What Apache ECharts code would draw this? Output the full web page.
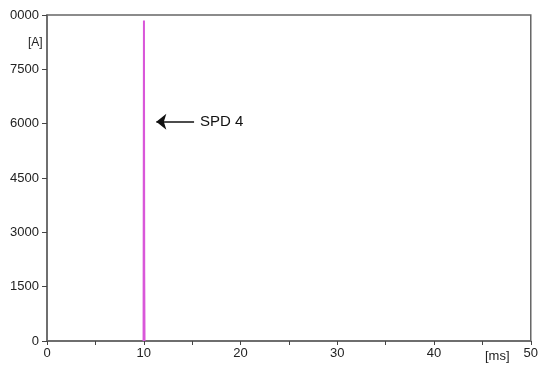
<!DOCTYPE html>
<html>
<head>
<meta charset="utf-8">
<script src="https://cdn.jsdelivr.net/npm/echarts@6/dist/echarts.min.js"></script>
<style>
  html, body { margin: 0; padding: 0; background: #fff; }
  #chart { width: 541px; height: 367px; }
</style>
</head>
<body>
<div id="chart"></div>
<script>
// time in ms, current in A
var spdTime = [9.98, 10.02, 10.05, 10.08];
var spdCurrent = [0, 8850, 1900, 0];
var yTicks = [0, 1500, 3000, 4500, 6000, 7500, 9000];
var yTickLabels = ['0', '1500', '3000', '4500', '6000', '7500', '0000'];
var xTickLabels = ['0', '10', '20', '30', '40', '50'];
var arrowFrom = [15.2, 6050];
var arrowTo = [11.3, 6050];

var chart = echarts.init(document.getElementById('chart'));
var font = 'Liberation Sans, Arial, sans-serif';

var option = {
    animation: false,
    grid: { left: 47, right: 7, top: 15, bottom: 26, show: true, borderColor: '#666', borderWidth: 1.5 },
    xAxis: {
        type: 'value', min: 0, max: 50, interval: 10,
        axisLine: { lineStyle: { color: '#666', width: 1.5 } },
        axisTick: { show: true, length: 4, lineStyle: { color: '#444' } },
        minorTick: { show: true, splitNumber: 2, length: 4, lineStyle: { color: '#444' } },
        splitLine: { show: false },
        axisLabel: {
            color: '#222', fontFamily: font, fontSize: 13, margin: 6,
            formatter: function (v) { return xTickLabels[Math.round(v / 10)]; }
        }
    },
    yAxis: {
        type: 'value', min: 0, max: 9000, interval: 1500,
        axisLine: { show: true, lineStyle: { color: '#666', width: 1.5 } },
        axisTick: { show: true, length: 5, lineStyle: { color: '#444' } },
        splitLine: { show: false },
        axisLabel: {
            color: '#222', fontFamily: font, fontSize: 13, margin: 8,
            formatter: function (v) { return yTickLabels[yTicks.indexOf(v)]; }
        }
    },
    graphic: [
        { type: 'text', left: 28, top: 37, style: { text: '[A]', fill: '#222', font: '12px ' + font } },
        { type: 'text', left: 485, top: 350, style: { text: '[ms]', fill: '#222', font: '13px ' + font } }
    ],
    series: [{
        type: 'line',
        data: spdTime.map(function (t, i) { return [t, spdCurrent[i]]; }),
        showSymbol: false,
        lineStyle: { color: '#d957d9', width: 2 },
        markLine: {
            silent: true,
            symbol: ['none', 'arrow'],
            symbolSize: [12, 10],
            lineStyle: { color: '#111', width: 1.5, type: 'solid' },
            label: {
                show: true, position: 'start', distance: 6,
                formatter: 'SPD 4', color: '#111', fontFamily: font, fontSize: 15
            },
            data: [[{ coord: arrowFrom }, { coord: arrowTo }]]
        }
    }]
};
chart.setOption(option);
</script>
</body>
</html>
